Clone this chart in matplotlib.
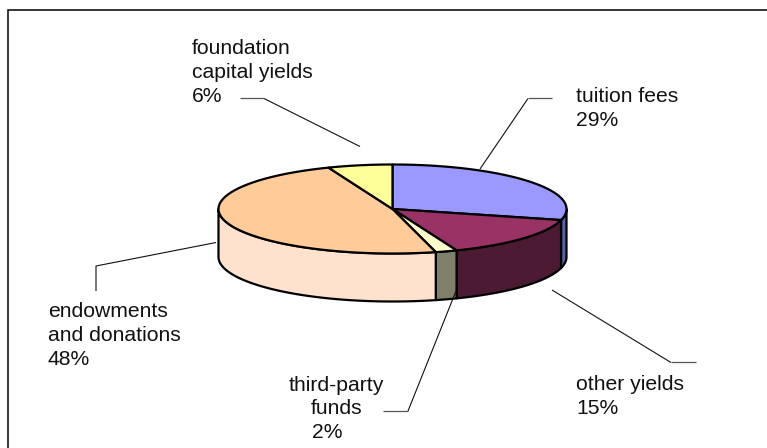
import numpy as np
import matplotlib
matplotlib.use('Agg')
from matplotlib import pyplot as plt
from matplotlib.patches import Polygon

plt.rcParams['font.family'] = ['Liberation Sans', 'DejaVu Sans']

#Data, clockwise from 12 o'clock
names = ['tuition fees', 'other yields', 'third-party funds', 'endowments and donations', 'foundation capital yields']
values = [29, 15, 2, 48, 6]
top_colors = ['#9999FF', '#993366', '#FFFFCC', '#FFCC99', '#FFFF99']
side_colors = ['#5563A6', '#4D1A33', '#80806A', '#FFE2CE', '#80804D']

#Label lines, one entry per slice: text lines, x, first baseline, alignment
label_lines = [['tuition fees', '29%'], ['other yields', '15%'], ['third-party', 'funds', '2%'],
               ['endowments', 'and donations', '48%'], ['foundation', 'capital yields', '6%']]
label_x = [[576, 576], [576, 576], [336, 337, 312], [48, 48, 48], [192, 192, 192]]
label_y = [[102, 126], [390, 414], [391, 414, 438], [317, 341, 365], [54, 78, 102]]
label_ha = [['left', 'left'], ['left', 'left'], ['center', 'center', 'left'],
            ['left', 'left', 'left'], ['left', 'left', 'left']]

#Leader lines in picture pixels
leader_x = [[480, 528], [552, 671], [456, 408], [216, 96, 96], [360, 264]]
leader_y = [[169, 98.5], [290, 362.5], [291, 411], [242.5, 266, 291], [146.5, 98.5]]
stub_x = [[528, 552], [671, 696], [408, 383], [], [264, 240]]
stub_y = [[98.5, 98.5], [362.5, 362.5], [411, 411], [], [98.5, 98.5]]

cx, cy = 392.5, 209
rx, ry = 174, 44.5
depth = 48

fig = plt.figure(figsize=(7.67, 4.48), dpi=100)
ax = fig.add_axes([0, 0, 1, 1])
ax.set_xlim(0, 767)
ax.set_ylim(448, 0)
ax.axis('off')


def rim(a, b):
    t = np.radians(np.linspace(a, b, 120))
    return cx + rx * np.sin(t), cy - ry * np.cos(t)


ends = np.cumsum(values) / sum(values) * 360
starts = np.concatenate([[0], ends[:-1]])

#Sides first, only the front half of the rim can be seen
for s, e, c in zip(starts, ends, side_colors):
    a, b = max(s, 90), min(e, 270)
    if a >= b:
        continue
    x, y = rim(a, b)
    px = np.concatenate([x, x[::-1]])
    py = np.concatenate([y, y[::-1] + depth])
    ax.add_patch(Polygon(np.column_stack([px, py]), facecolor=c, edgecolor='black',
                         lw=1.6, joinstyle='round', zorder=2))

#Top of the pie
for s, e, c in zip(starts, ends, top_colors):
    x, y = rim(s, e)
    px = np.concatenate([[cx], x])
    py = np.concatenate([[cy], y])
    ax.add_patch(Polygon(np.column_stack([px, py]), facecolor=c, edgecolor='black',
                         lw=1.6, joinstyle='round', zorder=3))

for x, y in zip(leader_x, leader_y):
    ax.plot(x, y, color='#111111', lw=0.8, zorder=4, solid_capstyle='butt')
for x, y in zip(stub_x, stub_y):
    ax.plot(x, y, color='#555555', lw=0.9, zorder=4, solid_capstyle='butt')

for lines, xs, ys, has in zip(label_lines, label_x, label_y, label_ha):
    for t, x, y, ha in zip(lines, xs, ys, has):
        ax.text(x, y, t, ha=ha, va='baseline', fontsize=15.2, color='#111111')

#Frame, only the top and left edges are in the picture
ax.plot([767, 7.5, 7.5], [10.5, 10.5, 448], color='black', lw=1.1, solid_joinstyle='miter', clip_on=False)

fig.savefig('out.png', dpi=100)
